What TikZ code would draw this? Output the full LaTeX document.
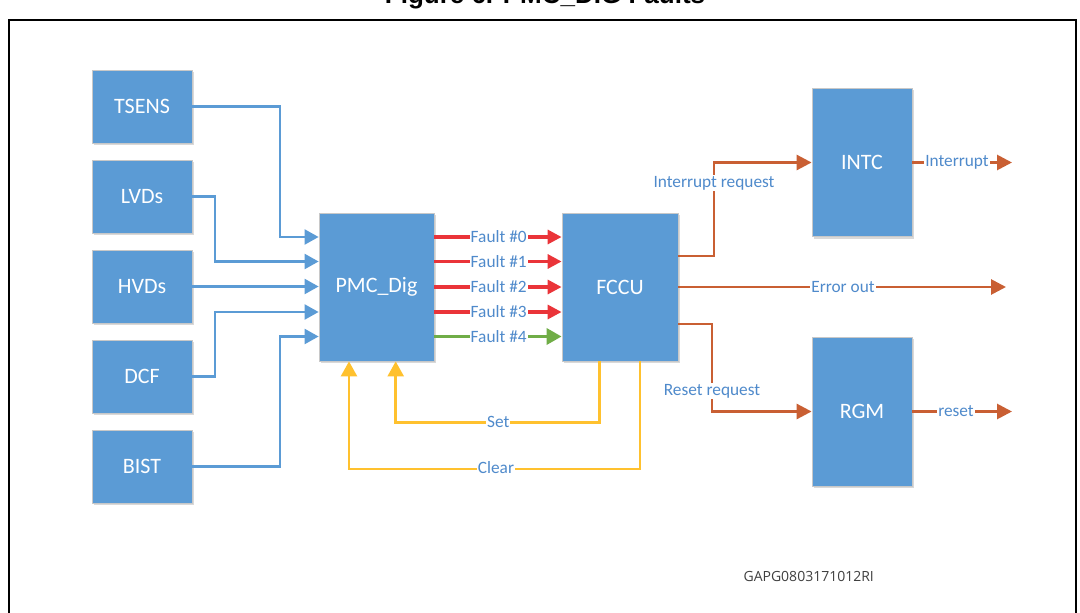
\documentclass[tikz,border=0pt]{standalone}
\usepackage{fontspec}
\usetikzlibrary{arrows.meta,shadows}
\newfontfamily\carlito{Carlito}
\newfontfamily\arialfont{Liberation Sans}
\newfontfamily\opensans{Open Sans}
\definecolor{boxblue}{HTML}{5B9BD5}
\definecolor{lblue}{HTML}{4F8ACB}
\definecolor{fred}{HTML}{EA3439}
\definecolor{fgreen}{HTML}{70AD47}
\definecolor{fyellow}{HTML}{FFC12E}
\definecolor{forange}{HTML}{C95F33}
\definecolor{boxedge}{HTML}{C8C8C8}
\begin{document}
\begin{tikzpicture}[x=1pt,y=-1pt,
  blk/.style={draw=boxedge, line width=0.8pt, fill=boxblue, text=white,
    font=\carlito\fontsize{22}{26}\selectfont, inner sep=0pt,
    drop shadow={shadow xshift=2pt, shadow yshift=-2pt, fill=black, opacity=0.15}},
  small/.style={blk, minimum width=100pt, minimum height=73pt},
  bl/.style={draw=boxblue, line width=2.2pt, -{Triangle[length=14pt,width=15pt]}},
  rd/.style={draw=fred, line width=3.2pt, -{Triangle[length=14pt,width=14pt]}},
  gr/.style={draw=fgreen, line width=3.4pt, -{Triangle[length=15pt,width=16pt]}},
  yl/.style={draw=fyellow, line width=2.5pt, -{Triangle[length=15pt,width=16pt]}},
  orl/.style={draw=forange, line width=2.8pt, -{Triangle[length=15pt,width=15pt]}},
  lbl/.style={fill=white, text=lblue, inner sep=1pt, font=\carlito\fontsize{17.3}{20}\selectfont}
]
\useasboundingbox (0,0) rectangle (1080,613);
\clip (0,0) rectangle (1080,613);
\fill[white] (0,0) rectangle (1080,613);
% title (cut off at the top, as in the reference) and frame
\node[anchor=base, inner sep=0pt, font=\arialfont\bfseries\fontsize{26}{30}\selectfont] (title) at (545,4) {Figure 6. PMC\_DIG Faults};
\draw[line width=2pt] (9,630) -- (9,20) -- (1076,20) -- (1076,630);

% blocks
\node[small] (tsens) at (142,106.5) {TSENS};
\node[small] (lvds) at (142,196.5) {LVDs};
\node[small] (hvds) at (142,286.5) {HVDs};
\node[small] (dcf) at (142,376.5) {DCF};
\node[small] (bist) at (142,466.5) {BIST};
\node[blk, minimum width=115pt, minimum height=148pt] (pmc) at (376.5,287) {PMC\_Dig};
\node[blk, minimum width=116pt, minimum height=148pt] (fccu) at (620,287) {FCCU};
\node[blk, minimum width=100pt, minimum height=148.5pt] (intc) at (862,162.5) {INTC};
\node[blk, minimum width=100pt, minimum height=149pt] (rgm) at (862,411.5) {RGM};

% inputs to PMC_Dig
\draw[bl] (tsens.east) -| (280,237) -- (pmc.west |- 0,237);
\draw[bl] (lvds.east) -| (215,261.5) -- (pmc.west |- 0,261.5);
\draw[bl] (hvds.east) -- (pmc.west |- hvds.east);
\draw[bl] (dcf.east) -| (215,312) -- (pmc.west |- 0,312);
\draw[bl] (bist.east) -| (280,336.5) -- (pmc.west |- 0,336.5);

% faults
\foreach \yy/\ii in {237/0,261.5/1,287/2,312/3}{
  \draw[rd] (pmc.east |- 0,\yy) -- (fccu.west |- 0,\yy);
  \node[lbl] (f\ii) at (498.7,\yy) {Fault \#\ii};
}
\draw[gr] (pmc.east |- 0,336.5) -- (fccu.west |- 0,336.5);
\node[lbl] (f4) at (498.7,336.5) {Fault \#4};

% set / clear
\draw[yl] ([xshift=-20.5pt]fccu.south) -- ++(0,61) -| ([xshift=19.2pt]pmc.south);
\draw[yl] ([xshift=20pt]fccu.south) -- ++(0,107.5) -| ([xshift=-27.5pt]pmc.south);
\node[lbl] (set) at (498.3,422) {Set};
\node[lbl] (clear) at (496,468) {Clear};

% outputs of FCCU
\coordinate (eo) at (1006,287);
\coordinate (io) at (1012,162.5);
\coordinate (ro) at (1012,411.5);
\draw[orl] ([yshift=31pt]fccu.east) -| (714,162.5) -- (intc.west);
\draw[orl] (fccu.east) -- (eo);
\draw[orl] ([yshift=-37pt]fccu.east) -| (712,411.5) -- (rgm.west);
\draw[orl] (intc.east) -- (io);
\draw[orl] (rgm.east) -- (ro);
\node[lbl] (irq) at (714,183) {Interrupt request};
\node[lbl] (rrq) at (712,391) {Reset request};
\node[lbl] (err) at (843,287) {Error out};
\node[lbl] (intl) at (957,162.5) {Interrupt};
\node[lbl] (rstl) at (956,411.5) {reset};

\node[text=black!75, inner sep=0pt, font=\opensans\fontsize{14}{17}\selectfont] (gapg) at (808.7,576.7) {GAPG0803171012RI};
\end{tikzpicture}
\end{document}
